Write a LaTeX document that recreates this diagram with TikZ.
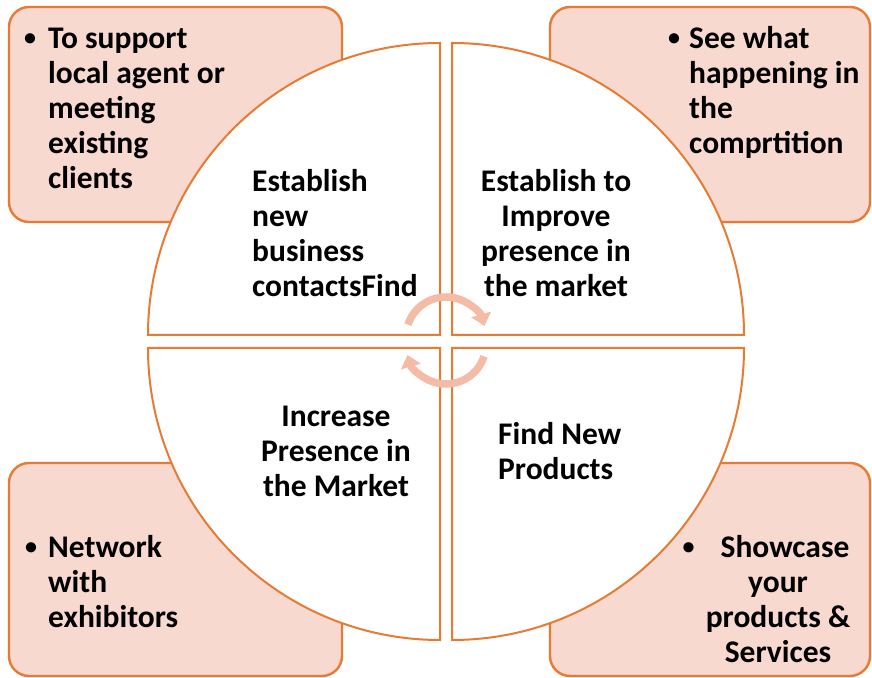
\documentclass[tikz,border=0pt]{standalone}
\usepackage{fontspec}
\setmainfont{Carlito}
\usetikzlibrary{arrows.meta}
\definecolor{boxfill}{RGB}{248,217,208}
\definecolor{edge}{RGB}{232,123,52}
\definecolor{cyc}{RGB}{244,188,166}
\newcommand{\bul}{\raisebox{2.5pt}{\fontsize{24}{24}\selectfont\textbullet}}
\begin{document}
\begin{tikzpicture}[x=1pt,y=1pt,
  infobox/.style={draw=edge,fill=boxfill,line width=2.4pt,rounded corners=20pt},
  quad/.style={draw=edge,fill=white,line width=2pt},
  txt/.style={inner sep=0pt,font=\fontsize{31.5}{35}\selectfont\bfseries},
  cyclearrow/.style={draw=cyc,line width=7.5pt,-{Triangle[width=20pt,length=12pt]}}]
\useasboundingbox (0,0) rectangle (872,677);
% corner boxes
\path[infobox] (9,455) rectangle (342,670);
\path[infobox] (550,455) rectangle (870,670);
\path[infobox] (9,1) rectangle (342,214);
\path[infobox] (550,1) rectangle (870,214);
% quadrants
\path[quad] (440,342) -- (148,342) arc[start angle=180,end angle=90,radius=292] -- cycle;
\path[quad] (452,342) -- (452,634) arc[start angle=90,end angle=0,radius=292] -- cycle;
\path[quad] (440,329) -- (440,37) arc[start angle=270,end angle=180,radius=292] -- cycle;
\path[quad] (452,329) -- (744,329) arc[start angle=0,end angle=-90,radius=292] -- cycle;
% cycle arrows
\draw[cyclearrow] (446,340) ++(162:40) arc[start angle=162,end angle=16,radius=40];
\draw[cyclearrow] (446,333) ++(-18:40) arc[start angle=-18,end angle=-164,radius=40];
% box texts
\node[txt,anchor=north west,align=left] (tl) at (24,653.5)
  {\strut\makebox[24pt][l]{\bul}To support\\\hspace*{24pt}local agent or\\\hspace*{24pt}meeting\\\hspace*{24pt}existing\\\hspace*{24pt}clients};
\node[txt,anchor=north west,align=left] (tr) at (668,653.5)
  {\strut\makebox[21pt][l]{\bul}See what\\\hspace*{21pt}happening in\\\hspace*{21pt}the\\\hspace*{21pt}comprtition};
\node[txt,anchor=north west,align=left] (bl) at (25,144.5)
  {\strut\makebox[23pt][l]{\bul}Network\\\hspace*{23pt}with\\\hspace*{23pt}exhibitors};
\node[txt,anchor=north,align=center] (br) at (778,144.5)
  {\strut\hspace*{14pt}\makebox[0pt][r]{\bul\hspace{26pt}}Showcase\\your\\products \&\\Services};
% quadrant texts
\node[txt,anchor=north west,align=left] (q1) at (252,510.5)
  {\strut Establish\\new\\business\\contactsFind};
\node[txt,anchor=north,align=center] (q2) at (556,510.5)
  {\strut Establish to\\Improve\\presence in\\the market};
\node[txt,anchor=north,align=center] (q3) at (336,275.5)
  {\strut Increase\\Presence in\\the Market};
\node[txt,anchor=north west,align=left] (q4) at (498,257.5)
  {\strut Find New\\Products};
\end{tikzpicture}
\end{document}
